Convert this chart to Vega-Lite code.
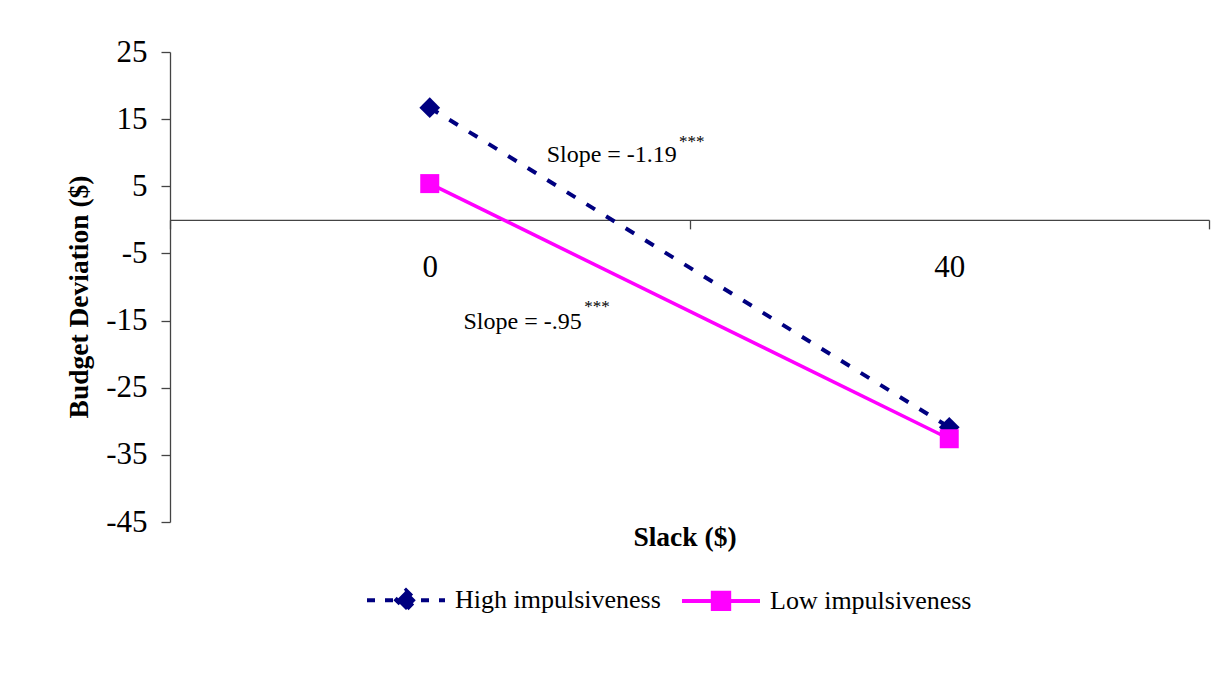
{
  "$schema": "https://vega.github.io/schema/vega-lite/v6.json",
  "width": 1039,
  "height": 470,
  "autosize": {"type": "none"},
  "padding": {"left": 170, "top": 52, "right": 14, "bottom": 153},
  "background": "white",
  "config": {"view": {"stroke": null}, "font": "Liberation Serif"},
  "datasets": {
    "lines": [
      {"series": "High impulsiveness", "slack": 0, "deviation": 16.7},
      {"series": "High impulsiveness", "slack": 40, "deviation": -30.9},
      {"series": "Low impulsiveness", "slack": 0, "deviation": 5.4},
      {"series": "Low impulsiveness", "slack": 40, "deviation": -32.6}
    ],
    "notes": [
      {"slack": 9.0, "deviation": 8.66, "text": "Slope = -1.19"},
      {"slack": 2.6, "deviation": -16.26, "text": "Slope = -.95"}
    ],
    "stars": [
      {"slack": 19.2, "deviation": 10.9, "text": "***"},
      {"slack": 11.9, "deviation": -13.7, "text": "***"}
    ]
  },
  "encoding": {
    "x": {
      "field": "slack",
      "type": "quantitative",
      "scale": {"domain": [-20, 60], "nice": false, "zero": false},
      "axis": {
        "title": "Slack ($)",
        "orient": "bottom",
        "offset": -302.14,
        "values": [-20, 0, 20, 40, 60],
        "labelExpr": "datum.value == 0 || datum.value == 40 ? (datum.value + '') : ''",
        "tickOpacity": {"condition": {"test": "datum.value == 0 || datum.value == 40", "value": 0}, "value": 1},
        "tickSize": 9,
        "tickColor": "#444444",
        "tickWidth": 1.3,
        "domainColor": "#444444",
        "domainWidth": 1.3,
        "grid": false,
        "labelFont": "Liberation Serif",
        "labelFontSize": 31,
        "labelColor": "black",
        "labelPadding": 24,
        "labelFlush": false,
        "labelOverlap": false,
        "labelBound": false,
        "titleFont": "Liberation Serif",
        "titleFontSize": 27.5,
        "titleFontWeight": "bold",
        "titleColor": "black",
        "titleX": 514.5,
        "titleY": 326,
        "titleAlign": "center",
        "titleBaseline": "alphabetic"
      }
    },
    "y": {
      "field": "deviation",
      "type": "quantitative",
      "scale": {"domain": [-45, 25], "nice": false, "zero": false},
      "axis": {
        "title": "Budget Deviation ($)",
        "values": [-45, -35, -25, -15, -5, 5, 15, 25],
        "labelExpr": "datum.value + ''",
        "tickSize": 9,
        "tickColor": "#444444",
        "tickWidth": 1.3,
        "domainColor": "#444444",
        "domainWidth": 1.3,
        "grid": false,
        "labelFont": "Liberation Serif",
        "labelFontSize": 31,
        "labelColor": "black",
        "labelPadding": 14,
        "labelFlush": false,
        "labelOverlap": false,
        "labelBound": false,
        "titleFont": "Liberation Serif",
        "titleFontSize": 27.5,
        "titleFontWeight": "bold",
        "titleColor": "black",
        "titleAngle": -90,
        "titleX": -83,
        "titleY": 244.5,
        "titleAlign": "center",
        "titleBaseline": "alphabetic"
      }
    }
  },
  "layer": [
    {
      "data": {"name": "lines"},
      "transform": [{"filter": "datum.series == 'High impulsiveness'"}],
      "mark": {"type": "line", "color": "#000080", "strokeWidth": 4, "strokeDash": [10, 13]},
      "encoding": {}
    },
    {
      "data": {"name": "lines"},
      "transform": [{"filter": "datum.series == 'Low impulsiveness'"}],
      "mark": {"type": "line", "color": "#FF00FF", "strokeWidth": 3.5},
      "encoding": {}
    },
    {
      "data": {"name": "lines"},
      "transform": [{"filter": "datum.series == 'High impulsiveness'"}],
      "mark": {"type": "point", "shape": "diamond", "filled": true, "color": "#000080", "opacity": 1, "size": 430},
      "encoding": {}
    },
    {
      "data": {"name": "lines"},
      "transform": [{"filter": "datum.series == 'Low impulsiveness'"}],
      "mark": {"type": "point", "shape": "square", "filled": true, "color": "#FF00FF", "opacity": 1, "size": 361},
      "encoding": {}
    },
    {
      "data": {"name": "lines"},
      "transform": [{"filter": "false"}],
      "mark": {"type": "point", "filled": true, "opacity": 1, "strokeWidth": 4},
      "encoding": {
        "fill": {
          "field": "series", "type": "nominal",
          "scale": {"domain": ["High impulsiveness", "Low impulsiveness"], "range": ["#000080", "#FF00FF"]},
          "legend": {"orient": "none", "legendX": 195, "legendY": 507, "direction": "horizontal", "title": null, "padding": 0, "symbolSize": 6084, "symbolStrokeWidth": 4, "symbolOpacity": 1, "labelFont": "Liberation Serif", "labelFontSize": 26, "labelColor": "black", "labelOffset": 8, "labelLimit": 400, "columnPadding": 13}
        },
        "stroke": {
          "field": "series", "type": "nominal",
          "scale": {"domain": ["High impulsiveness", "Low impulsiveness"], "range": ["#000080", "#FF00FF"]},
          "legend": {"orient": "none", "legendX": 195, "legendY": 507, "direction": "horizontal", "title": null, "padding": 0, "symbolSize": 6084, "symbolStrokeWidth": 4, "symbolOpacity": 1, "labelFont": "Liberation Serif", "labelFontSize": 26, "labelColor": "black", "labelOffset": 8, "labelLimit": 400, "columnPadding": 13}
        },
        "shape": {
          "field": "series", "type": "nominal",
          "scale": {"domain": ["High impulsiveness", "Low impulsiveness"], "range": ["M-1,0H1M0,-0.25L0.25,0L0,0.25L-0.25,0Z", "M-1,0H1M-0.21,-0.21H0.21V0.21H-0.21Z"]},
          "legend": {"orient": "none", "legendX": 195, "legendY": 507, "direction": "horizontal", "title": null, "padding": 0, "symbolSize": 6084, "symbolStrokeWidth": 4, "symbolOpacity": 1, "labelFont": "Liberation Serif", "labelFontSize": 26, "labelColor": "black", "labelOffset": 8, "labelLimit": 400, "columnPadding": 13}
        },
        "strokeDash": {
          "field": "series", "type": "nominal",
          "scale": {"domain": ["High impulsiveness", "Low impulsiveness"], "range": [[8, 10], [1, 0]]},
          "legend": {"orient": "none", "legendX": 195, "legendY": 507, "direction": "horizontal", "title": null, "padding": 0, "symbolSize": 6084, "symbolStrokeWidth": 4, "symbolOpacity": 1, "labelFont": "Liberation Serif", "labelFontSize": 26, "labelColor": "black", "labelOffset": 8, "labelLimit": 400, "columnPadding": 13}
        }
      }
    },
    {
      "data": {"name": "notes"},
      "mark": {"type": "text", "align": "left", "baseline": "alphabetic", "font": "Liberation Serif", "fontSize": 24, "color": "black"},
      "encoding": {"text": {"field": "text"}}
    },
    {
      "data": {"name": "stars"},
      "mark": {"type": "text", "align": "left", "baseline": "alphabetic", "font": "Liberation Serif", "fontSize": 17, "color": "black"},
      "encoding": {"text": {"field": "text"}}
    }
  ]
}
